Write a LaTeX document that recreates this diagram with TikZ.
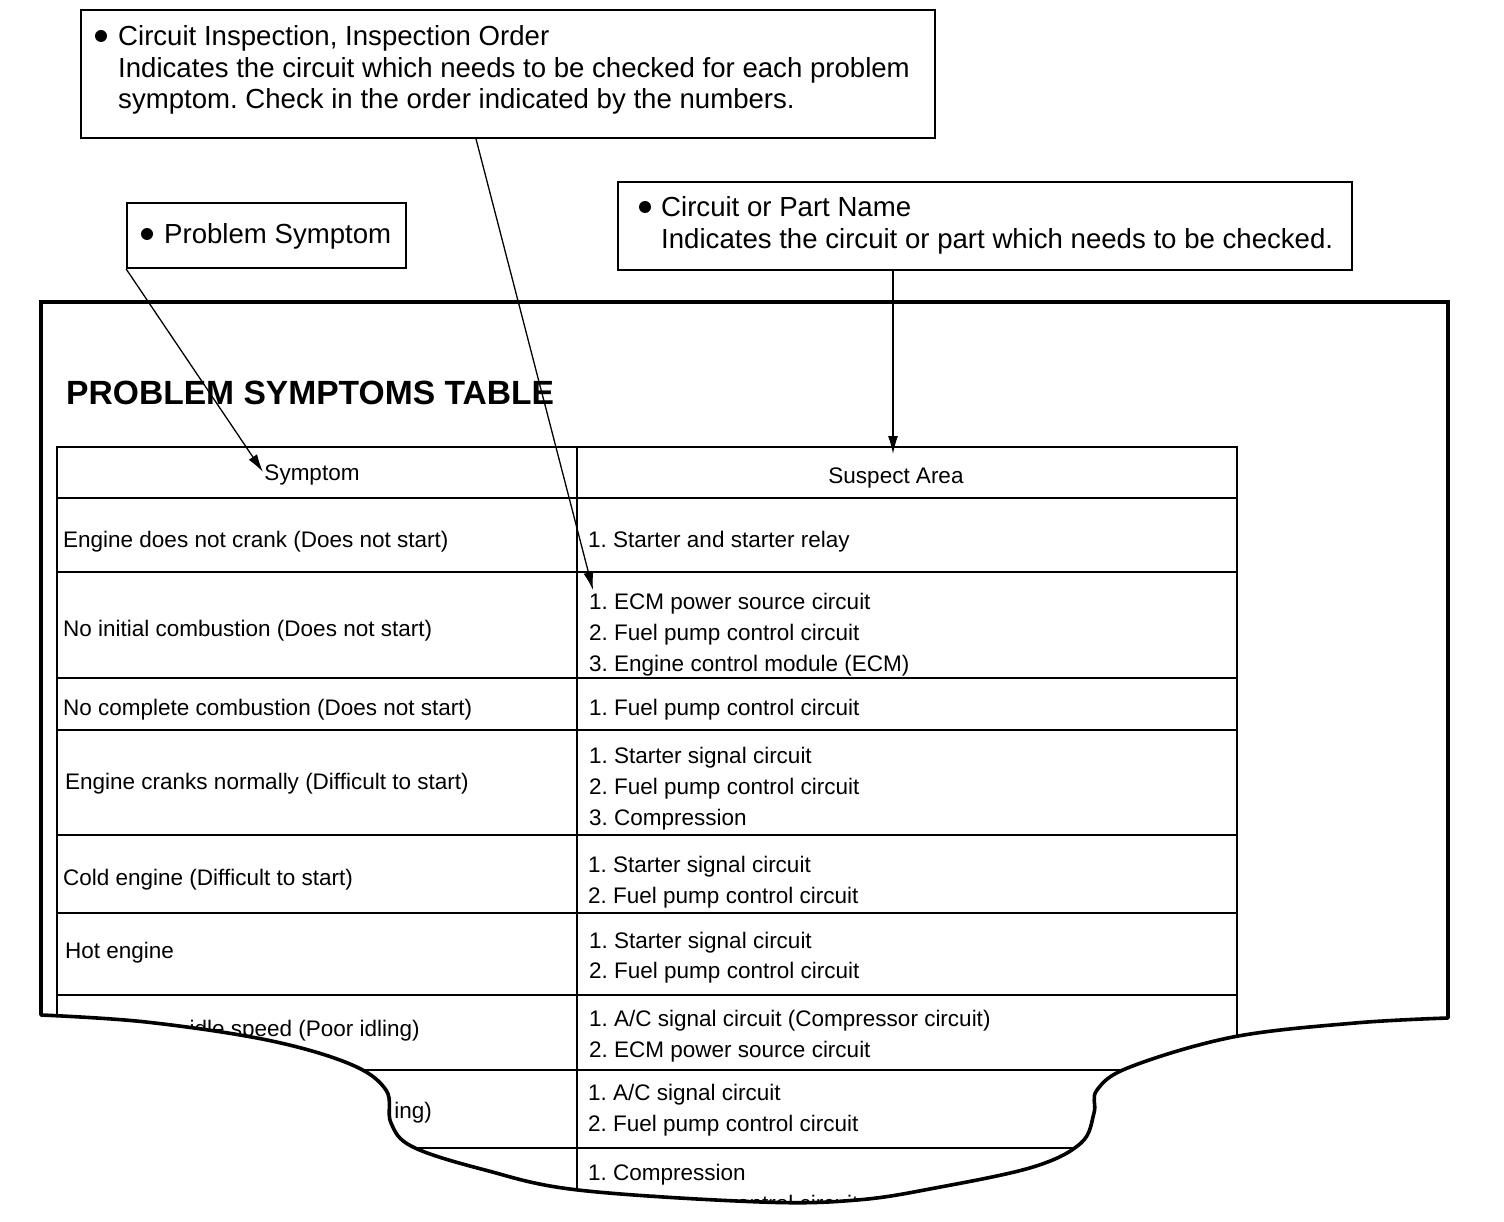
\documentclass[tikz,border=0pt]{standalone}
\usepackage{fontspec}
\usetikzlibrary{arrows.meta}
\newfontfamily\tabfont{Liberation Sans}
\newfontfamily\titlefont{Liberation Sans}[UprightFont={* Bold}]
\frenchspacing
\tikzset{
  tx/.style={anchor=base west, inner sep=0pt, font=\tabfont\fontsize{22.5}{27}\selectfont},
  hd/.style={anchor=base, inner sep=0pt, font=\tabfont\fontsize{22.5}{27}\selectfont},
  ct/.style={anchor=base west, inner sep=0pt, font=\tabfont\fontsize{27.6}{32}\selectfont},
  callout/.style={draw, line width=1.8pt, inner sep=0pt, rectangle},
  tline/.style={line width=2.4pt},
  frameline/.style={line width=4pt, line join=miter},
  cutline/.style={line width=3.6pt, line cap=round},
  arr/.style={line width=1.3pt, -{Latex[length=18pt,width=10pt]}},
  dotb/.style={fill=black}
}
\begin{document}
\begin{tikzpicture}[x=1pt,y=-1pt]
\useasboundingbox (0,0) rectangle (1504,1222);
\fill[white] (0,0) rectangle (1504,1222);

% ---------- clipped table ----------
\begin{scope}
\clip plot[smooth, tension=0.6] coordinates {(41,1015) (146,1022) (267,1040) (350,1064) (386,1090) (391,1123) (413,1147) (485,1170) (578,1190) (761,1202) (857,1200) (935,1188) (1033,1167) (1081,1143) (1094,1113) (1097,1090) (1130,1067) (1233,1037) (1355,1023) (1448,1018)} -- (1448,302) -- (41,302) -- cycle;

% table grid
\draw[tline] (57,1215) -- (57,447) -- (1237,447) -- (1237,1215);
\draw[line width=2pt] (577,447) -- (577,1215);
\foreach \yy in {498,572,678,730,835,913,995,1070,1148}
  \draw[tline] (57,\yy) -- (1237,\yy);

% header
\node[hd] (hsym) at (312,480) {Symptom};
\node[hd] (hsus) at (896,483) {Suspect Area};

% row 1
\node[tx] (r1l) at (63,547) {Engine does not crank (Does not start)};
\node[tx] (r1a) at (588,547) {1. Starter and starter relay};
% row 2
\node[tx] (r2l) at (63,636) {No initial combustion (Does not start)};
\node[tx] (r2a) at (589,609) {1. ECM power source circuit};
\node[tx] (r2b) at (589,640) {2. Fuel pump control circuit};
\node[tx] (r2c) at (589,671) {3. Engine control module (ECM)};
% row 3
\node[tx] (r3l) at (63,715) {No complete combustion (Does not start)};
\node[tx] (r3a) at (589,715) {1. Fuel pump control circuit};
% row 4
\node[tx] (r4l) at (65,789) {Engine cranks normally (Difficult to start)};
\node[tx] (r4a) at (589,763) {1. Starter signal circuit};
\node[tx] (r4b) at (589,794) {2. Fuel pump control circuit};
\node[tx] (r4c) at (589,825) {3. Compression};
% row 5
\node[tx] (r5l) at (63,885) {Cold engine (Difficult to start)};
\node[tx] (r5a) at (588,872) {1. Starter signal circuit};
\node[tx] (r5b) at (588,903) {2. Fuel pump control circuit};
% row 6
\node[tx] (r6l) at (65,958) {Hot engine};
\node[tx] (r6a) at (589,948) {1. Starter signal circuit};
\node[tx] (r6b) at (589,978) {2. Fuel pump control circuit};
% row 7
\node[tx, anchor=base east] (r7l) at (420,1036) {idle speed (Poor idling)};
\node[tx] (r7a) at (589,1026) {1. A/C signal circuit (Compressor circuit)};
\node[tx] (r7b) at (589,1057) {2. ECM power source circuit};
% row 8
\node[tx, anchor=base east] (r8l) at (432,1118) {ing)};
\node[tx] (r8a) at (588,1100) {1. A/C signal circuit};
\node[tx] (r8b) at (588,1131) {2. Fuel pump control circuit};
% row 9
\node[tx] (r9a) at (588,1180) {1. Compression};
\node[tx] (r9b) at (588,1211) {2. Fuel pump control circuit};
\end{scope}

% title
\node[anchor=base west, inner sep=0pt, font=\titlefont\fontsize{33.6}{38}\selectfont] (title) at (66,404) {PROBLEM SYMPTOMS TABLE};

% frame and torn edge
\draw[frameline] (41,1015) -- (41,302) -- (1448,302) -- (1448,1018);
\draw[cutline] plot[smooth, tension=0.6] coordinates {(41,1015) (146,1022) (267,1040) (350,1064) (386,1090) (391,1123) (413,1147) (485,1170) (578,1190) (761,1202) (857,1200) (935,1188) (1033,1167) (1081,1143) (1094,1113) (1097,1090) (1130,1067) (1233,1037) (1355,1023) (1448,1018)};

% ---------- callouts ----------
\node[callout, minimum width=854pt, minimum height=128pt] (cio) at (508,74) {};
\fill[dotb] (101,36) circle (6);
\node[ct] (cio1) at (118,46) {Circuit Inspection, Inspection Order};
\node[ct] (cio2) at (118,78) {Indicates the circuit which needs to be checked for each problem};
\node[ct] (cio3) at (118,109) {symptom. Check in the order indicated by the numbers.};

\node[callout, minimum width=279pt, minimum height=65pt] (ps) at (266.5,235.5) {};
\fill[dotb] (147,234) circle (6);
\node[ct] (ps1) at (164,244) {Problem Symptom};

\node[callout, minimum width=734pt, minimum height=88pt] (cpn) at (985,226) {};
\fill[dotb] (645,207) circle (6);
\node[ct] (cpn1) at (661,217) {Circuit or Part Name};
\node[ct] (cpn2) at (661,249) {Indicates the circuit or part which needs to be checked.};

% arrow targets
\coordinate (tipA) at (263,472);
\coordinate (tipB) at (593,590);
\coordinate (tipC) at (893,454);

\draw[arr] (ps.south west) -- (tipA);
\draw[arr] ([xshift=-32pt]cio.south) -- (tipB);
\draw[arr] (cpn.south -| tipC) -- (tipC);
\end{tikzpicture}
\end{document}
